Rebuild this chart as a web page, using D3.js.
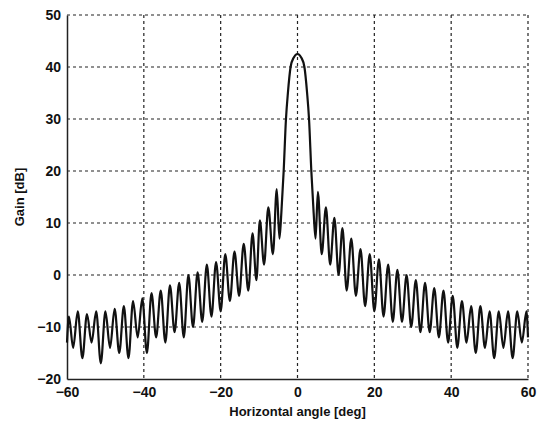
<!DOCTYPE html>
<html>
<head>
<meta charset="utf-8">
<script src="https://cdn.jsdelivr.net/npm/d3@7"></script>
<style>
  body { margin: 0; background: #fff; }
  text { font-family: "Liberation Sans", Arial, sans-serif; font-weight: bold; fill: #111; }
</style>
</head>
<body>
<svg width="546" height="424"></svg>
<script>
const svg = d3.select('svg')
const margin = {top: 15, right: 18, bottom: 45, left: 67}
const width = 546 - margin.left - margin.right
const height = 424 - margin.top - margin.bottom

const xTicks = [-60, -40, -20, 0, 20, 40, 60]
const yTicks = [-20, -10, 0, 10, 20, 30, 40, 50]

// angle (deg) and gain (dB)
const angles = [
  -60, -59.5, -58.4, -57.2, -56, -54.8, -53.6, -52.4, -51.2, -50, -48.8, -47.6, -46.4, -45.2, -44, -42.8,
  -41.6, -40.4, -39.2, -38, -36.8, -35.6, -34.4, -33.2, -32, -30.8, -29.6, -28.4, -27.2, -26, -24.8,
  -23.6, -22.4, -21.2, -20, -18.8, -17.6, -16.4, -15.2, -14, -12.8, -11.7, -10.7, -9.8, -8.7, -7.6,
  -6.4, -5.4, -4.7, -4.2, -3.6, -3, -2.5, -1.8, -1, 0,
  1, 1.8, 2.5, 3, 3.6, 4.2, 4.7, 5.3, 6.3, 7.4, 8.5, 9.6, 10.7, 11.7, 12.8, 14, 15.2, 16.4,
  17.6, 18.8, 20, 21.2, 22.4, 23.6, 24.8, 26, 27.2, 28.4, 29.6, 30.8, 32, 33.2, 34.4, 35.6, 36.8,
  38, 39.2, 40.4, 41.6, 42.8, 44, 45.2, 46.4, 47.6, 48.8, 50, 51.2, 52.4, 53.6, 54.8, 56, 57.2,
  58.4, 59.6, 60
]
const gainDb = [
  -13, -8, -14, -7, -16, -7.5, -13, -7, -17, -7, -14, -6.5, -15, -6, -16, -5,
  -12, -4.5, -15, -3.5, -12, -3, -13, -2, -11, -1.5, -12, 0, -10, 0.5, -9,
  2, -8, 2.5, -7, 4, -5, 4.5, -4, 6, -3, 8, -1, 10.5, 2, 13,
  4, 16.5, 7, 12, 20, 30, 35, 40, 41.8, 42.5,
  41.8, 40, 35, 30, 20, 12, 7, 16, 4, 13, 2, 11, 0, 9, -3, 7, -4, 5,
  -6, 4, -7, 3, -8, 2, -9, 1, -9, 0, -10, -1, -11, -1.5, -11, -2.5, -12,
  -3, -13, -4, -14, -5, -13, -6, -15, -6, -14, -7, -16, -7, -14, -7, -16, -7,
  -13, -7, -12
]
const data = angles.map((a, i) => ({angle: a, gain: gainDb[i]}))

const g = svg.append('g').attr('transform', `translate(${margin.left},${margin.top})`)
const x = d3.scaleLinear().domain([-60, 60]).range([0, width])
const y = d3.scaleLinear().domain([-20, 50]).range([height, 0])

// grid
g.append('g').selectAll('line').data(xTicks.slice(1))
  .join('line')
  .attr('x1', d => x(d)).attr('x2', d => x(d))
  .attr('y1', 0).attr('y2', height)
  .attr('stroke', '#222').attr('stroke-width', 1.2).attr('stroke-dasharray', '3,3')
g.append('g').selectAll('line').data(yTicks.slice(1))
  .join('line')
  .attr('x1', 0).attr('x2', width)
  .attr('y1', d => y(d)).attr('y2', d => y(d))
  .attr('stroke', '#222').attr('stroke-width', 1.2).attr('stroke-dasharray', '3,3')

// axes
const xAxis = g.append('g').attr('transform', `translate(0,${height})`)
  .call(d3.axisBottom(x).tickValues(xTicks).tickSize(0).tickPadding(8))
const yAxis = g.append('g')
  .call(d3.axisLeft(y).tickValues(yTicks).tickSize(0).tickPadding(6))
xAxis.select('.domain').attr('stroke', '#222').attr('stroke-width', 1.5)
yAxis.select('.domain').attr('stroke', '#222').attr('stroke-width', 1.5)
g.selectAll('.tick text').style('font-size', '14px').style('font-family', '"Liberation Sans", Arial, sans-serif')
  .style('font-weight', 'bold').attr('fill', '#111')

// curve
g.append('path').datum(data)
  .attr('fill', 'none').attr('stroke', '#111').attr('stroke-width', 2.2)
  .attr('stroke-linejoin', 'round')
  .attr('d', d3.line().x(d => x(d.angle)).y(d => y(d.gain)).curve(d3.curveMonotoneX))

// axis labels
svg.append('text')
  .attr('x', margin.left + width / 2).attr('y', 416)
  .attr('text-anchor', 'middle').style('font-size', '13px')
  .text('Horizontal angle [deg]')
svg.append('text')
  .attr('transform', `translate(24,${margin.top + height / 2}) rotate(-90)`)
  .attr('text-anchor', 'middle').style('font-size', '13px')
  .text('Gain [dB]')
</script>
</body>
</html>
